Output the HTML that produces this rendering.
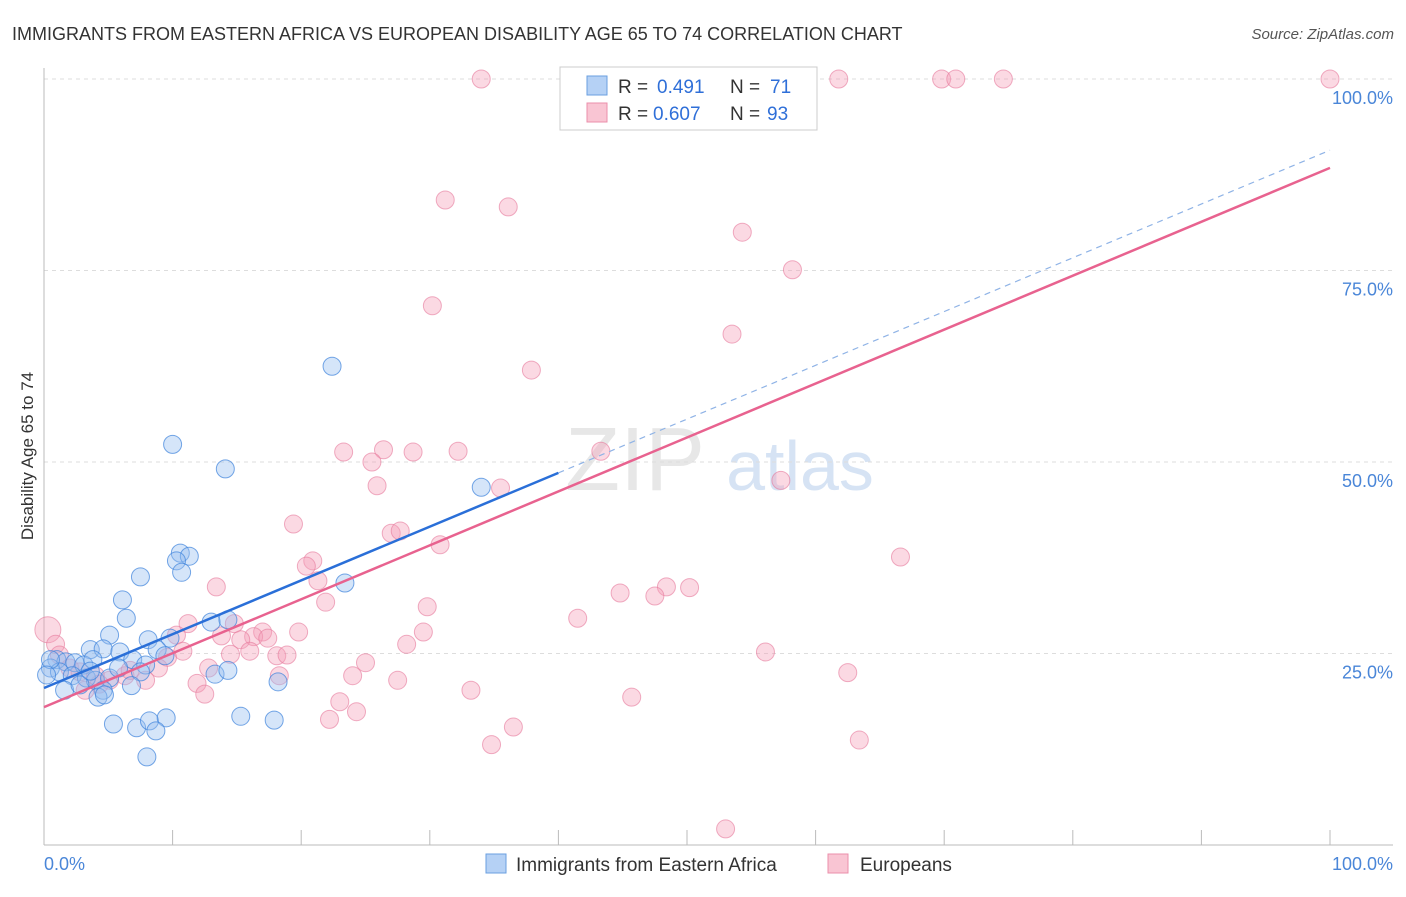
<!DOCTYPE html>
<html><head><meta charset="utf-8">
<style>
body{margin:0;background:#fff;font-family:"Liberation Sans",sans-serif;}
svg text{font-family:"Liberation Sans",sans-serif;}
</style></head>
<body>
<svg id="chart" width="1406" height="892" viewBox="0 0 1406 892">
<text x="12" y="40" font-size="18" fill="#333">IMMIGRANTS FROM EASTERN AFRICA VS EUROPEAN DISABILITY AGE 65 TO 74 CORRELATION CHART</text>
<text x="1394" y="39" font-size="15" fill="#555" text-anchor="end" font-style="italic">Source: ZipAtlas.com</text>
<text transform="translate(33,456) rotate(-90)" font-size="17" fill="#333" text-anchor="middle">Disability Age 65 to 74</text>
<g id="watermark">
<text x="635" y="490" font-size="90" fill="#ddd" text-anchor="middle" font-family="Liberation Serif" opacity="0.7">ZIP</text>
<text x="800" y="490" font-size="70" fill="#c5d8f0" text-anchor="middle" opacity="0.7">atlas</text>
</g>
<g id="grid"></g>
<g id="axes"></g>
<g id="points"></g>
<g id="lines"></g>
<g>
<rect x="560" y="67" width="257" height="63" fill="#fff" stroke="#ccc"/>
<rect x="587" y="76" width="20" height="19" fill="#b5d1f5" stroke="#6a9fe0"/>
<rect x="587" y="103" width="20" height="19" fill="#f9c5d3" stroke="#eb8fab"/>
<text x="618" y="93" font-size="19" fill="#333">R =</text>
<text x="657" y="93" font-size="19" fill="#2f6fd8">0.491</text>
<text x="730" y="93" font-size="19" fill="#333">N =</text>
<text x="770" y="93" font-size="19" fill="#2f6fd8">71</text>
<text x="618" y="120" font-size="19" fill="#333">R =</text>
<text x="653" y="120" font-size="19" fill="#2f6fd8">0.607</text>
<text x="730" y="120" font-size="19" fill="#333">N =</text>
<text x="767" y="120" font-size="19" fill="#2f6fd8">93</text>
</g>
<g>
<rect x="486" y="854" width="20" height="19" fill="#b5d1f5" stroke="#6a9fe0"/>
<text x="516" y="871" font-size="19" fill="#333">Immigrants from Eastern Africa</text>
<rect x="828" y="854" width="20" height="19" fill="#f9c5d3" stroke="#eb8fab"/>
<text x="860" y="871" font-size="19" fill="#333">Europeans</text>
</g>
</svg>
<script>
const yTicks=[25,50,75,100];
const yTickLabels=["25.0%","50.0%","75.0%","100.0%"];
const xTicks=[0,10,20,30,40,50,60,70,80,90,100];
const blueX=[22.4,10.0,14.1,34.0,10.6,11.3,10.3,10.7,7.5,23.4,6.1,6.4,13.0,14.3,5.1,8.1,9.8,8.8,3.6,4.6,5.9,6.9,7.9,9.4,1.0,1.7,2.4,3.1,0.5,1.2,2.2,3.3,4.0,5.1,7.5,13.3,14.3,18.2,1.6,2.8,4.6,6.8,4.2,4.7,5.4,7.2,8.2,9.5,8.7,15.3,17.9,8.0,3.8,0.5,0.2,5.8,3.6];
const blueY=[62.5,52.3,49.1,46.7,38.1,37.7,37.1,35.6,35.0,34.2,32.0,29.6,29.1,29.4,27.4,26.8,27.0,25.5,25.5,25.6,25.2,24.2,23.5,24.7,24.2,23.9,23.8,23.5,23.1,22.6,22.1,21.8,21.5,21.8,22.6,22.3,22.8,21.3,20.2,20.9,20.2,20.8,19.3,19.6,15.8,15.3,16.2,16.6,14.9,16.8,16.3,11.5,24.2,24.2,22.2,23.1,22.7];
const pinkX=[34.0,53.7,61.8,69.8,70.9,74.6,100,31.2,36.1,54.3,58.2,30.2,53.5,37.9,23.3,26.4,28.7,32.2,43.3,25.5,25.9,35.5,57.3,19.4,27.0,27.7,30.8,66.6,20.9,20.4,21.3,13.4,48.4,50.2,44.8,47.5,21.9,29.8,41.5,11.2,14.8,17.0,19.8,29.5,10.3,13.8,16.3,17.4,15.3,28.2,10.8,14.5,16.0,18.1,18.9,56.1,9.6,25.0,12.8,24.0,18.3,62.5,8.9,27.5,11.9,33.2,12.5,45.7,23.0,24.3,22.2,36.5,34.8,63.4,53.0,0.3,0.9,1.2,2.0,2.8,4.0,5.1,6.3,7.9,4.3,3.2,6.7];
const pinkY=[100,100,100,100,100,100,100,84.2,83.3,80.0,75.1,70.4,66.7,62.0,51.3,51.6,51.3,51.4,51.4,50.0,46.9,46.6,47.6,41.9,40.7,41.0,39.2,37.6,37.1,36.4,34.5,33.7,33.7,33.6,32.9,32.5,31.7,31.1,29.6,28.9,28.9,27.8,27.8,27.8,27.4,27.3,27.2,27.0,26.8,26.2,25.3,24.9,25.3,24.7,24.8,25.2,24.5,23.8,23.1,22.1,22.1,22.5,23.1,21.5,21.1,20.2,19.7,19.3,18.7,17.4,16.4,15.4,13.1,13.7,2.1,28.1,26.2,24.8,23.1,22.6,22.1,21.5,22.1,21.5,21.0,20.2,22.8];
const blueLine=[20.5,90.7];
const pinkLine=[18.0,88.4];
const NS="http://www.w3.org/2000/svg";
const sx=v=>44+v*12.86, sy=v=>845-v*7.66;
function mk(tag,parent,attrs){const e=document.createElementNS(NS,tag);for(const k in attrs)e.setAttribute(k,attrs[k]);document.getElementById(parent).appendChild(e);return e;}
yTicks.forEach((t,i)=>{
 let g=mk('line','grid',{x1:44,x2:1393,y1:sy(t),y2:sy(t),stroke:'#ddd','stroke-dasharray':'4,4'});
 
 
 let l=mk('text','axes',{x:1393,y:sy(t)+25,'font-size':18,fill:'#4a86d8','text-anchor':'end'});
 l.textContent=yTickLabels[i];
 
 
});
let ax=mk('line','axes',{x1:44,x2:44,y1:68,y2:845,stroke:'#bbb'});


let bx=mk('line','axes',{x1:44,x2:1393,y1:845,y2:845,stroke:'#bbb'});


xTicks.forEach(t=>{let k=mk('line','axes',{x1:sx(t),x2:sx(t),y1:830,y2:845,stroke:'#bbb'});
 
 });
let x0=mk('text','axes',{x:44,y:870,'font-size':18,fill:'#4a86d8'});x0.textContent='0.0%';


let x1=mk('text','axes',{x:1393,y:870,'font-size':18,fill:'#4a86d8','text-anchor':'end'});x1.textContent='100.0%';


pinkX.forEach((v,i)=>{let c=mk('circle','points',{cx:sx(v),cy:sy(pinkY[i]),r:i==pinkX.length-12?13:9,fill:'rgba(244,160,185,0.4)',stroke:'rgba(230,120,155,0.6)'});
 
 });
blueX.forEach((v,i)=>{let c=mk('circle','points',{cx:sx(v),cy:sy(blueY[i]),r:9,fill:'rgba(150,190,240,0.4)',stroke:'rgba(60,130,220,0.7)'});
 
 });
const bAt=x=>blueLine[0]+(blueLine[1]-blueLine[0])*x/100;
let b1=mk('line','lines',{x1:sx(0),y1:sy(bAt(0)),x2:sx(40),y2:sy(bAt(40)),stroke:'#2a6fd8','stroke-width':2.5});


let b2=mk('line','lines',{x1:sx(40),y1:sy(bAt(40)),x2:sx(100),y2:sy(bAt(100)),stroke:'#8fb3e6','stroke-width':1.2,'stroke-dasharray':'6,5'});


let p1=mk('line','lines',{x1:sx(0),y1:sy(pinkLine[0]),x2:sx(100),y2:sy(pinkLine[1]),stroke:'#e8628f','stroke-width':2.5});


</script>
</body></html>
